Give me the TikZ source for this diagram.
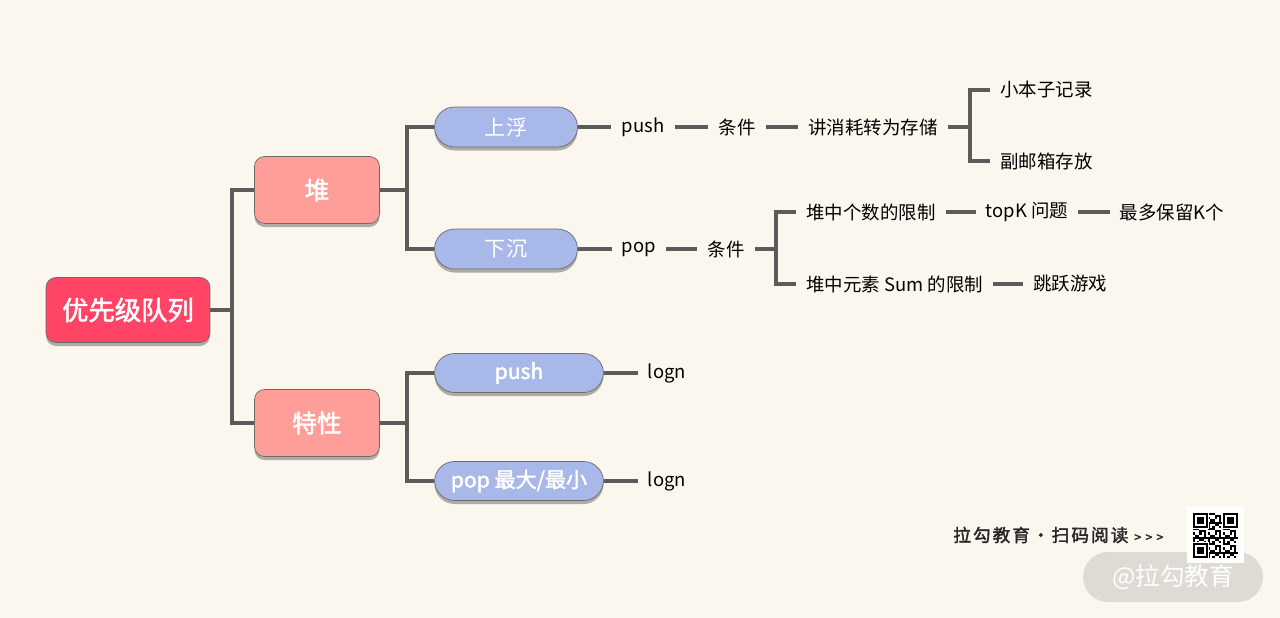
\documentclass[tikz,border=0pt]{standalone}
\usepackage{fontspec}
\setmainfont{Noto Sans CJK SC}[AutoFakeBold=2]
\usetikzlibrary{shadows}
\definecolor{bgcream}{HTML}{FBF7EF}
\definecolor{rootred}{HTML}{FF4466}
\definecolor{heapred}{HTML}{FF9E99}
\definecolor{pillblue}{HTML}{A8B8E8}
\definecolor{linegray}{HTML}{5B5B5B}
\definecolor{edgegray}{HTML}{6B6B6B}
\definecolor{markgray}{HTML}{DEDBD5}
\tikzset{
  link/.style={draw=linegray, line width=2pt},
  boxshadow/.style={drop shadow={shadow xshift=0pt, shadow yshift=-2pt, opacity=0.3, fill=black}},
  rootbox/.style={draw=edgegray, fill=rootred, rounded corners=0.2cm, boxshadow,
    minimum width=3.28cm, minimum height=1.3cm, text=white, font=\fontsize{15}{18}\selectfont\bfseries},
  heapbox/.style={draw=edgegray, fill=heapred, rounded corners=0.2cm, boxshadow,
    minimum width=2.5cm, minimum height=1.34cm, text=white, font=\fontsize{14}{17}\selectfont\bfseries},
  pill/.style={draw=edgegray, fill=pillblue, rounded corners=0.4cm, boxshadow,
    minimum width=2.86cm, minimum height=0.8cm, text=white, font=\fontsize{12}{14}\selectfont},
  widepill/.style={pill, minimum width=3.38cm, minimum height=0.78cm, font=\fontsize{12}{14}\selectfont\bfseries},
  leaf/.style={inner xsep=0.2cm, inner ysep=2pt, text=black, font=\fontsize{10.5}{12}\selectfont},
}
\begin{document}
\begin{tikzpicture}[x=0.02cm, y=-0.02cm]
\fill[bgcream] (0,0) rectangle (1280,618);
\useasboundingbox (0,0) rectangle (1280,618);

% 主干
\node[rootbox] (root) at (128,310) {优先级队列};
\node[heapbox] (heap) at (317,190) {堆};
\node[heapbox] (trait) at (317,423) {特性};
\coordinate (f0) at (232,310);
\draw[link] (root.east) -- (f0);
\draw[link] (heap.west) -| (f0) |- (trait.west);

% 堆
\node[pill] (up) at (506,127) {上浮};
\node[pill] (down) at (506,249) {下沉};
\coordinate (f1) at (407,190);
\draw[link] (heap.east) -- (f1);
\draw[link] (up.west) -| (f1) |- (down.west);

\node[leaf] (push) at (643,127) {push};
\node[leaf] (cond1) at (737,127) {条件};
\node[leaf] (store) at (873,127) {讲消耗转为存储};
\node[leaf, anchor=west] (book) at (990,90) {小本子记录};
\node[leaf, anchor=west] (mail) at (990,161) {副邮箱存放};
\draw[link] (up) -- (push) -- (cond1) -- (store);
\coordinate (f3) at (970,127);
\draw[link] (store.east) -- (f3);
\draw[link] (book.west) -| (f3) |- (mail.west);

\node[leaf] (pop) at (639,249) {pop};
\node[leaf] (cond2) at (726,249) {条件};
\node[leaf, anchor=west] (count) at (796,212) {堆中个数的限制};
\node[leaf, anchor=west] (sum) at (796,284) {堆中元素 Sum 的限制};
\node[leaf] (topk) at (1027,212) {topK 问题};
\node[leaf] (keepk) at (1172,212) {最多保留K个};
\node[leaf] (jump) at (1070,284) {跳跃游戏};
\draw[link] (down) -- (pop) -- (cond2);
\coordinate (f4) at (776,249);
\draw[link] (cond2.east) -- (f4);
\draw[link] (count.west) -| (f4) |- (sum.west);
\draw[link] (count) -- (topk) -- (keepk);
\draw[link] (sum) -- (jump);

% 特性
\node[widepill] (tpush) at (519,373) {push};
\node[widepill] (tpop) at (519,481) {pop 最大/最小};
\coordinate (f2) at (407,423);
\draw[link] (trait.east) -- (f2);
\draw[link] (tpush.west) -| (f2) |- (tpop.west);
\node[leaf] (log1) at (667,373) {logn};
\node[leaf] (log2) at (667,481) {logn};
\draw[link] (tpush) -- (log1);
\draw[link] (tpop) -- (log2);

% 页脚
\node[anchor=west, inner sep=0pt, text=black!85, font=\fontsize{10}{12}\selectfont\bfseries] (scan) at (953,535)
  {\addfontfeature{LetterSpace=12}拉勾教育·扫码阅读\ {\fontsize{7}{8}\selectfont >\ >\ >}};
\node[fill=markgray, rounded corners=0.5cm, minimum width=3.6cm, minimum height=1cm,
  text=white, font=\fontsize{14}{17}\selectfont] (mark) at (1173,577) {@拉勾教育};
\fill[white] (1187,507) rectangle (1244,563);
\foreach \i in {0,...,20}
{
  \foreach \j in {0,...,20}
  {
    \pgfmathtruncatemacro\v{mod(\i*\i*7+\j*\j*3+\i*\j*5+\i+2*\j,7)}
    \ifnum\v<3 \fill[black] ({1193+2.15*\i},{513+2.15*\j}) rectangle ++(2.15,2.15);\fi
  }
}
\foreach \x/\y in {1193/513, 1223.1/513, 1193/543.1}
{
  \fill[white] (\x-1,\y-1) rectangle ++(17.05,17.05);
  \fill[black] (\x,\y) rectangle ++(15.05,15.05);
  \fill[white] (\x+2.15,\y+2.15) rectangle ++(10.75,10.75);
  \fill[black] (\x+4.3,\y+4.3) rectangle ++(6.45,6.45);
}
\end{tikzpicture}
\end{document}
